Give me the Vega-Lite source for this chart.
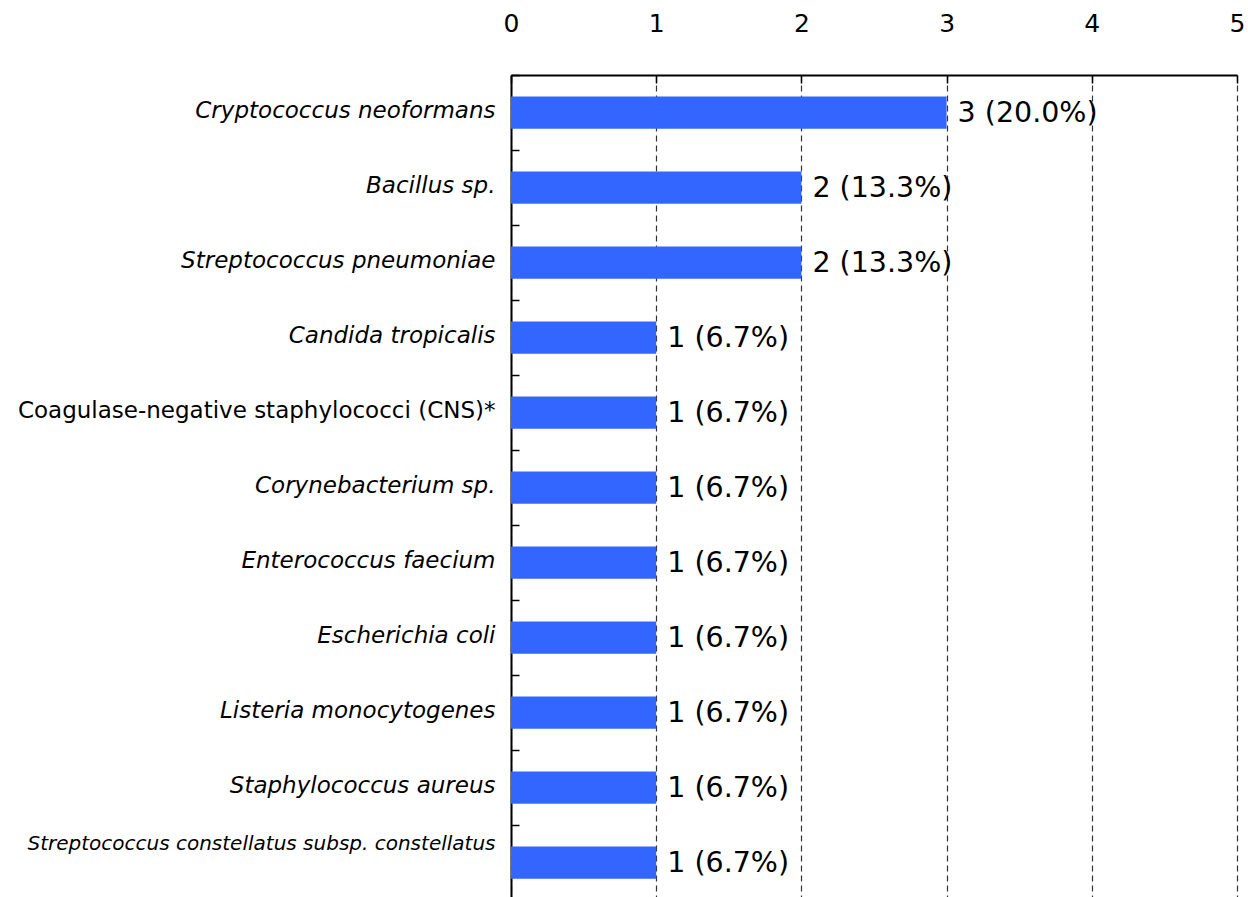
{
  "$schema": "https://vega.github.io/schema/vega-lite/v6.json",
  "width": 726,
  "height": 825,
  "autosize": "none",
  "padding": {"left": 511, "top": 75, "right": 11, "bottom": 0},
  "background": "white",
  "data": {
    "values": [
      {"organism": "Cryptococcus neoformans", "count": 3, "label": "3 (20.0%)"},
      {"organism": "Bacillus sp.", "count": 2, "label": "2 (13.3%)"},
      {"organism": "Streptococcus pneumoniae", "count": 2, "label": "2 (13.3%)"},
      {"organism": "Candida tropicalis", "count": 1, "label": "1 (6.7%)"},
      {"organism": "Coagulase-negative staphylococci (CNS)*", "count": 1, "label": "1 (6.7%)"},
      {"organism": "Corynebacterium sp.", "count": 1, "label": "1 (6.7%)"},
      {"organism": "Enterococcus faecium", "count": 1, "label": "1 (6.7%)"},
      {"organism": "Escherichia coli", "count": 1, "label": "1 (6.7%)"},
      {"organism": "Listeria monocytogenes", "count": 1, "label": "1 (6.7%)"},
      {"organism": "Staphylococcus aureus", "count": 1, "label": "1 (6.7%)"},
      {"organism": "Streptococcus constellatus subsp. constellatus", "count": 1, "label": "1 (6.7%)"}
    ]
  },
  "config": {
    "font": "DejaVu Sans",
    "view": {"stroke": null}
  },
  "encoding": {
    "y": {
      "field": "organism",
      "type": "nominal",
      "sort": null,
      "title": null,
      "scale": {"paddingInner": 0, "paddingOuter": 0},
      "axis": {
        "orient": "left",
        "domainColor": "black",
        "domainWidth": 2,
        "tickColor": "black",
        "tickWidth": 1.5,
        "tickSize": -8,
        "bandPosition": 0,
        "labelFont": "DejaVu Sans",
        "labelFontSize": {"condition": {"test": "datum.value === 'Streptococcus constellatus subsp. constellatus'", "value": 20}, "value": 23},
        "labelFontStyle": {"condition": {"test": "datum.value === 'Coagulase-negative staphylococci (CNS)*'", "value": "normal"}, "value": "italic"},
        "labelOffset": {"condition": {"test": "datum.value === 'Streptococcus constellatus subsp. constellatus'", "value": -19}, "value": -2},
        "labelColor": "black",
        "labelPadding": 24,
        "labelLimit": 600
      }
    },
    "x": {
      "field": "count",
      "type": "quantitative",
      "title": null,
      "scale": {"domain": [0, 5], "nice": false},
      "axis": {
        "orient": "top",
        "values": [0, 1, 2, 3, 4, 5],
        "format": "d",
        "domainColor": "black",
        "domainWidth": 2,
        "tickColor": "black",
        "tickWidth": 1.5,
        "tickSize": -8,
        "labelFontSize": 25,
        "labelColor": "black",
        "labelPadding": 47,
        "labelFlush": false,
        "grid": true,
        "gridColor": "#333333",
        "gridDash": [6, 4],
        "gridWidth": 1.2
      }
    }
  },
  "layer": [
    {
      "mark": {"type": "bar", "color": "#3366FF", "height": {"band": 0.43}}
    },
    {
      "mark": {"type": "text", "align": "left", "baseline": "middle", "dx": 11, "fontSize": 28.5, "color": "black"},
      "encoding": {"text": {"field": "label"}}
    }
  ]
}
